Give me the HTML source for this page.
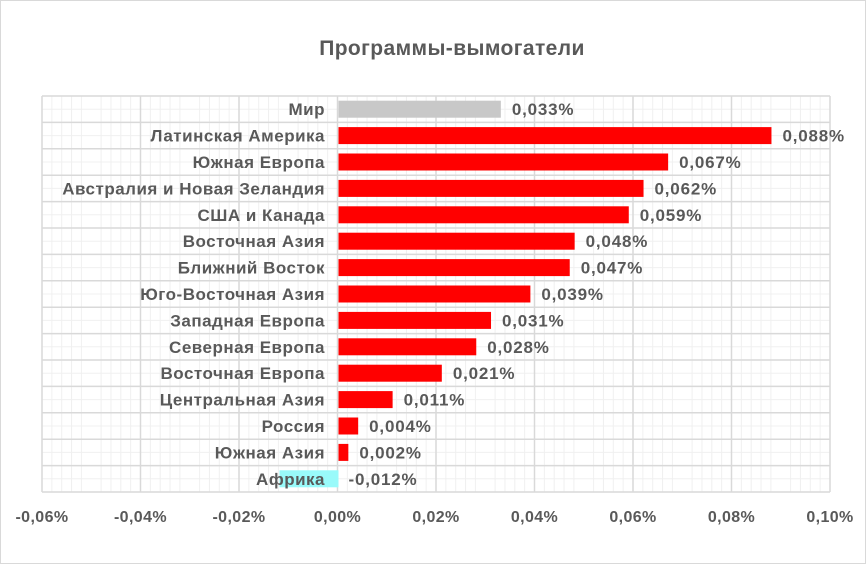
<!DOCTYPE html>
<html><head><meta charset="utf-8"><style>body{margin:0;background:#fff}svg{display:block}</style></head><body>
<svg width="867" height="565" xmlns="http://www.w3.org/2000/svg" font-family="Liberation Sans, DejaVu Sans, sans-serif" font-weight="bold">
<rect x="0.5" y="0.5" width="865" height="563" fill="#fff" stroke="#d9d9d9"/>
<text x="452" y="55" text-anchor="middle" font-size="21" letter-spacing="0.4" fill="#595959">Программы-вымогатели</text>
<g id="minor" stroke="#f0f0f0" stroke-width="1"></g>
<g id="major" stroke="#d9d9d9" stroke-width="1.5"></g>
<g id="bars"></g>
<g id="labels" font-size="17" letter-spacing="0.5" fill="#595959"></g>
<g id="vals" font-size="17" letter-spacing="0.8" fill="#595959"></g>
<g id="ticks" font-size="16" letter-spacing="0.4" fill="#595959" text-anchor="middle"></g>
<script>
var ns="http://www.w3.org/2000/svg";
function el(p,t,a,txt){var e=document.createElementNS(ns,t);for(var k in a)e.setAttribute(k,a[k]);if(txt)e.textContent=txt;document.getElementById(p).appendChild(e);return e;}
var L=42,R=830,T=96,B=492,rh=(B-T)/15,z=338.5,k=4920;
for(var i=0;i<=80;i++){var x=L+i*(R-L)/80;if(i%5)el('minor','line',{x1:x,x2:x,y1:T,y2:B});}
for(var i=0;i<15;i++){var y=T+rh*(i+0.5);el('minor','line',{x1:L,x2:R,y1:y,y2:y});}
for(var i=0;i<=8;i++){var x=L+i*(R-L)/8;el('major','line',{x1:x,x2:x,y1:T,y2:B});}
for(var i=0;i<=15;i++){var y=T+rh*i;el('major','line',{x1:L,x2:R,y1:y,y2:y});}
var d=[["Мир",0.033],["Латинская Америка",0.088],["Южная Европа",0.067],["Австралия и Новая Зеландия",0.062],["США и Канада",0.059],["Восточная Азия",0.048],["Ближний Восток",0.047],["Юго-Восточная Азия",0.039],["Западная Европа",0.031],["Северная Европа",0.028],["Восточная Европа",0.021],["Центральная Азия",0.011],["Россия",0.004],["Южная Азия",0.002],["Африка",-0.012]];
d.forEach(function(r,i){var c=T+rh*(i+0.5),w=r[1]*k;
var col=i==0?"#c8c8c8":(r[1]<0?"#99fafa":"#ff0000");
var x0=w<0?z+w:z;el('bars','rect',{x:x0,y:c-8.5,width:Math.abs(w),height:17,fill:col});
el('labels','text',{x:325,y:c+6,'text-anchor':'end'},r[0]);
var lx=w<0?z+10:z+w+11;
el('vals','text',{x:lx,y:c+6},r[1].toFixed(3).replace('.',',')+'%');});
for(var i=0;i<=8;i++){var v=-0.06+i*0.02;el('ticks','text',{x:L+i*(R-L)/8,y:522},(Math.abs(v)<1e-9?"0.00":v.toFixed(2)).replace('.',',')+'%');}
</script>
</svg>
</body></html>
